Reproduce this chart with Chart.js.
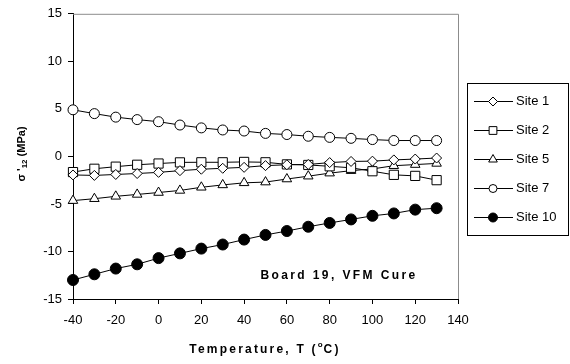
<!DOCTYPE html>
<html>
<head>
<meta charset="utf-8">
<script src="https://cdn.jsdelivr.net/npm/chart.js@4.4.0/dist/chart.umd.min.js"></script>
<style>
  html, body { margin: 0; padding: 0; background: #fff; }
  #wrap { width: 570px; height: 364px; }
</style>
</head>
<body>
<div id="wrap"><canvas id="chart1" width="570" height="364"></canvas></div>
<script>
// temperatures (deg C) where each site was measured
var temps = [-40, -30, -20, -10, 0, 10, 20, 30, 40, 50, 60, 70, 80, 90, 100, 110, 120, 130];

// sigma'12 (MPa) per site
var site1  = [-1.95, -2.0, -1.9, -1.8, -1.68, -1.5, -1.35, -1.25, -1.15, -0.97, -0.88, -0.85, -0.65, -0.53, -0.5, -0.37, -0.28, -0.17];
var site2  = [-1.65, -1.3, -1.08, -0.88, -0.75, -0.63, -0.62, -0.62, -0.58, -0.62, -0.84, -0.9, -1.04, -1.2, -1.56, -1.94, -2.05, -2.5];
var site5  = [-4.65, -4.45, -4.2, -4.0, -3.8, -3.58, -3.25, -3.0, -2.78, -2.7, -2.38, -2.08, -1.76, -1.5, -1.32, -0.98, -0.86, -0.74];
var site7  = [4.9, 4.5, 4.13, 3.87, 3.65, 3.3, 3.0, 2.78, 2.67, 2.42, 2.3, 2.12, 2.0, 1.9, 1.77, 1.67, 1.67, 1.67];
var site10 = [-13.0, -12.4, -11.8, -11.35, -10.7, -10.2, -9.7, -9.27, -8.75, -8.26, -7.85, -7.4, -7.0, -6.63, -6.25, -6.0, -5.6, -5.45];

var seriesNames = ["Site 1", "Site 2", "Site 5", "Site 7", "Site 10"];
var xTicks = [-40, -20, 0, 20, 40, 60, 80, 100, 120, 140];
var yTicks = [-15, -10, -5, 0, 5, 10, 15];
var boxLabel = "Board 19, VFM Cure";

var allSeries = [site1, site2, site5, site7, site10];
var shapes  = ['rectRot', 'rect', 'triangle', 'circle', 'circle'];
var fills   = ['#fff', '#fff', '#fff', '#fff', '#000'];
var radii   = [5, 6.5, 5.5, 5, 5.5];
var legendR = [4.5, 5.5, 5, 4, 4.5];

var FONT = "'Liberation Sans', Arial, sans-serif";

function pts(vals) {
  return vals.map(function (v, i) { return { x: temps[i], y: v }; });
}

var datasets = allSeries.map(function (s, i) {
  return {
    label: seriesNames[i],
    data: pts(s),
    borderColor: '#000',
    borderWidth: 1,
    pointStyle: shapes[i],
    pointRadius: radii[i],
    pointHoverRadius: radii[i],
    pointBackgroundColor: fills[i],
    pointBorderColor: '#000',
    pointBorderWidth: 1,
    fill: false,
    clip: false,
    tension: 0
  };
});

var extras = {
  id: 'extras',
  afterDraw: function (chart) {
    var ctx = chart.ctx;
    var a = chart.chartArea;
    ctx.save();

    // grey frame on top and right
    ctx.strokeStyle = '#8c8c8c';
    ctx.lineWidth = 1;
    ctx.beginPath();
    ctx.moveTo(a.left, a.top + 0.5);
    ctx.lineTo(a.right + 0.5, a.top + 0.5);
    ctx.lineTo(a.right + 0.5, a.bottom);
    ctx.stroke();

    ctx.fillStyle = '#000';
    ctx.textBaseline = 'middle';

    // label inside the plot
    ctx.font = "bold 12px " + FONT;
    ctx.letterSpacing = '2.4px';
    ctx.textAlign = 'center';
    ctx.fillText(boxLabel, 339, 276);

    // x axis title with superscript o
    var xt1 = 'Temperature, T (', xt2 = 'o', xt3 = 'C)';
    ctx.font = "bold 12px " + FONT;
    ctx.letterSpacing = '2.2px';
    var w1 = ctx.measureText(xt1).width, w3 = ctx.measureText(xt3).width;
    ctx.font = "bold 8px " + FONT;
    ctx.letterSpacing = '0px';
    var w2 = ctx.measureText(xt2).width + 1;
    var x0 = 265 - (w1 + w2 + w3) / 2;
    ctx.textAlign = 'left';
    ctx.font = "bold 12px " + FONT;
    ctx.letterSpacing = '2.2px';
    ctx.fillText(xt1, x0, 350);
    ctx.font = "bold 8px " + FONT;
    ctx.letterSpacing = '0px';
    ctx.fillText(xt2, x0 + w1, 345);
    ctx.font = "bold 12px " + FONT;
    ctx.letterSpacing = '2.2px';
    ctx.fillText(xt3, x0 + w1 + w2, 350);
    ctx.letterSpacing = '0px';

    // y axis title, rotated, subscript 12
    ctx.save();
    ctx.translate(22, 154);
    ctx.rotate(-Math.PI / 2);
    var y1 = "\u03c3 '", y2 = '12', y3 = ' (MPa)';
    ctx.font = "bold 11px " + FONT;
    var a1 = ctx.measureText(y1).width, a3 = ctx.measureText(y3).width;
    ctx.font = "bold 8px " + FONT;
    var a2 = ctx.measureText(y2).width;
    var s0 = -(a1 + a2 + a3) / 2;
    ctx.textAlign = 'left';
    ctx.font = "bold 11px " + FONT;
    ctx.fillText(y1, s0, 0);
    ctx.font = "bold 8px " + FONT;
    ctx.fillText(y2, s0 + a1, 3);
    ctx.font = "bold 11px " + FONT;
    ctx.fillText(y3, s0 + a1 + a2, 0);
    ctx.restore();

    // legend box
    var bx = 467.5, by = 83.5, bw = 101, bh = 152;
    ctx.strokeStyle = '#000';
    ctx.strokeRect(bx, by, bw, bh);
    ctx.font = "13px " + FONT;
    ctx.textAlign = 'left';
    seriesNames.forEach(function (name, i) {
      var yy = 101 + i * 29;
      ctx.beginPath();
      ctx.moveTo(474, yy + 0.5);
      ctx.lineTo(513, yy + 0.5);
      ctx.strokeStyle = '#000';
      ctx.lineWidth = 1;
      ctx.stroke();
      ctx.fillStyle = fills[i];
      Chart.helpers.drawPoint(ctx, {
        pointStyle: shapes[i], radius: legendR[i], rotation: 0, borderWidth: 1
      }, 493, yy + 0.5);
      ctx.fillStyle = '#000';
      ctx.fillText(name, 516, yy);
    });

    ctx.restore();
  }
};

new Chart(document.getElementById("chart1"), {
  type: 'line',
  data: { datasets: datasets },
  plugins: [extras],
  options: {
    responsive: false,
    animation: false,
    layout: { padding: { top: 11, right: 112, left: 0, bottom: 0 } },
    plugins: {
      legend: { display: false },
      tooltip: { enabled: false }
    },
    scales: {
      x: {
        type: 'linear',
        min: -40,
        max: 140,
        afterFit: function (s) { s.height = 65; },
        afterBuildTicks: function (s) { s.ticks = xTicks.map(function (v) { return { value: v }; }); },
        grid: { drawOnChartArea: false, drawTicks: true, tickLength: 5, color: '#000' },
        border: { color: '#000', width: 1 },
        ticks: { color: '#000', padding: 9, maxRotation: 0, font: { family: FONT, size: 13 } }
      },
      y: {
        min: -15,
        max: 15,
        afterFit: function (s) { s.width = 73; },
        afterBuildTicks: function (s) { s.ticks = yTicks.map(function (v) { return { value: v }; }); },
        grid: { drawOnChartArea: false, drawTicks: true, tickLength: 5, color: '#000' },
        border: { color: '#000', width: 1 },
        ticks: { color: '#000', padding: 6, font: { family: FONT, size: 13 } }
      }
    }
  }
});
</script>
</body>
</html>
